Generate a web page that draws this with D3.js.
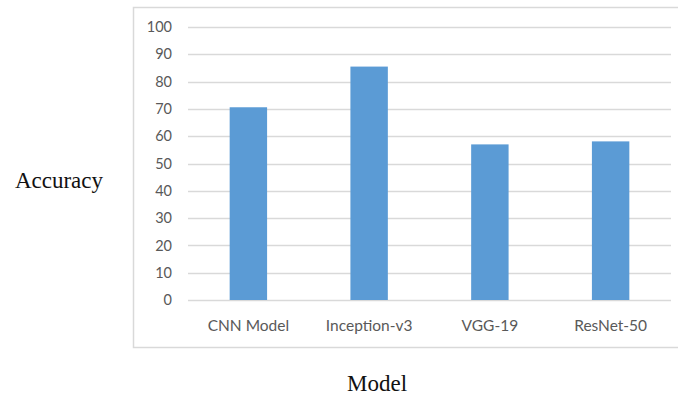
<!DOCTYPE html>
<html>
<head>
<meta charset="utf-8">
<script src="https://cdn.jsdelivr.net/npm/d3@7"></script>
<style>
  html, body { margin: 0; padding: 0; background: #fff; }
  svg { display: block; }
</style>
</head>
<body>
<svg id="chart" width="678" height="396"></svg>
<script>
// Accuracy of each model
const models = ["CNN Model", "Inception-v3", "VGG-19", "ResNet-50"];
const accuracy = [70.6, 85.5, 57.0, 58.1];
const yTicks = [0, 10, 20, 30, 40, 50, 60, 70, 80, 90, 100];

const svg = d3.select("#chart");

// chart area frame (runs off the right edge)
svg.append("rect")
  .attr("x", 133.5).attr("y", 7.5)
  .attr("width", 560).attr("height", 340)
  .attr("fill", "#fff")
  .attr("stroke", "#d9d9d9").attr("stroke-width", 1.5);

const plot = { left: 188, right: 671, top: 27, bottom: 300 };

const x = d3.scaleBand()
  .domain(models)
  .range([plot.left, plot.right])
  .paddingInner(0.69)
  .paddingOuter(0.345);

const y = d3.scaleLinear()
  .domain([0, 100])
  .range([plot.bottom, plot.top]);

// horizontal gridlines
svg.append("g")
  .selectAll("line")
  .data(yTicks)
  .join("line")
  .attr("x1", plot.left).attr("x2", plot.right)
  .attr("y1", d => Math.round(y(d)) + 0.5)
  .attr("y2", d => Math.round(y(d)) + 0.5)
  .attr("stroke", "#d9d9d9").attr("stroke-width", 1.3);

// y axis labels
const yAxis = d3.axisLeft(y).tickValues(yTicks).tickSize(0).tickPadding(0);
const gy = svg.append("g")
  .attr("transform", `translate(${plot.left - 16},0)`)
  .call(yAxis);
gy.select(".domain").remove();
gy.selectAll("text")
  .attr("fill", "#595959")
  .style("font-family", "Lato, 'Open Sans', sans-serif")
  .style("font-size", "14.5px");

// bars
svg.append("g")
  .selectAll("rect")
  .data(models)
  .join("rect")
  .attr("x", d => x(d))
  .attr("width", x.bandwidth())
  .attr("y", (d, i) => y(accuracy[i]))
  .attr("height", (d, i) => y(0) - y(accuracy[i]))
  .attr("fill", "#5b9bd5");

// x axis labels
const xAxis = d3.axisBottom(x).tickSize(0).tickPadding(0);
const gx = svg.append("g")
  .attr("transform", `translate(0,${plot.bottom + 20})`)
  .call(xAxis);
gx.select(".domain").remove();
gx.selectAll("text")
  .attr("fill", "#595959")
  .style("font-family", "Lato, 'Open Sans', sans-serif")
  .style("font-size", "15.5px");

// axis titles
svg.append("text")
  .attr("x", 59).attr("y", 188)
  .attr("text-anchor", "middle")
  .attr("fill", "#111")
  .style("font-family", "'Liberation Serif', 'DejaVu Serif', serif")
  .style("font-size", "23px")
  .text("Accuracy");

svg.append("text")
  .attr("x", 377).attr("y", 391)
  .attr("text-anchor", "middle")
  .attr("fill", "#111")
  .style("font-family", "'Liberation Serif', 'DejaVu Serif', serif")
  .style("font-size", "23px")
  .text("Model");
</script>
</body>
</html>
